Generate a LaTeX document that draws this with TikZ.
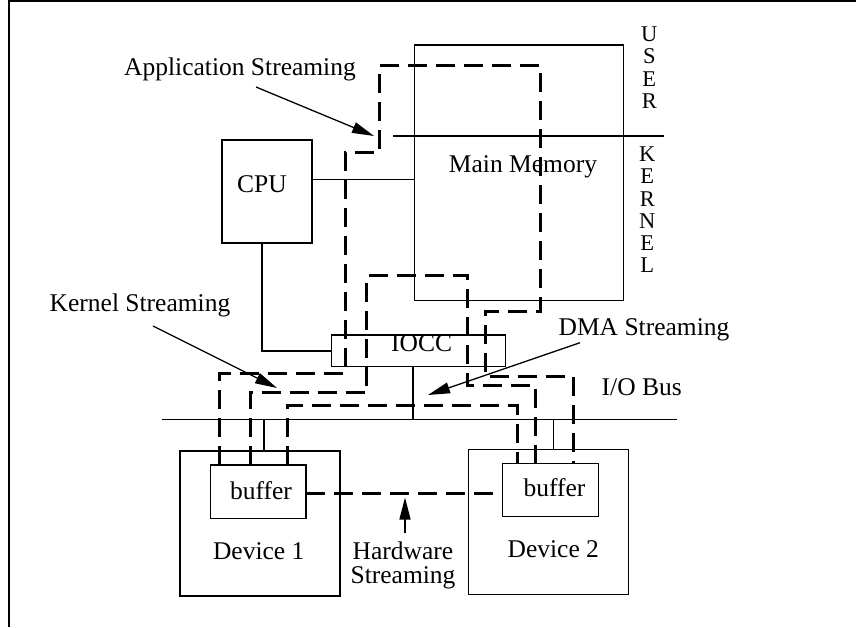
\documentclass[tikz,border=0pt]{standalone}
\usepackage{fontspec}
\setmainfont{Liberation Serif}
\usetikzlibrary{arrows.meta,fit}
\begin{document}
\begin{tikzpicture}[x=1pt,y=-1pt,
  box/.style={draw, line width=1.4pt, inner sep=0pt, outer sep=0pt},
  lbl/.style={font=\fontsize{25.5}{24.3}\selectfont, inner sep=0pt, anchor=base},
  letters/.style={font=\fontsize{22.5}{22.3}\selectfont, inner sep=0pt, align=center, anchor=north},
  wire/.style={line width=1.3pt},
  flow/.style={line width=3pt, dash pattern=on 19pt off 9pt},
  ptr/.style={line width=1.3pt, -{Triangle[length=22pt,width=11pt]}},
]
\useasboundingbox (0,0) rectangle (856,627);

% open frame: top and left edges
\draw[line width=1.5pt] (9,627) -- (9,1.2) -- (856,1.2);

% boxes
\node[box, fit={(414.7,45)(623.3,300.7)}] (mem) {};
\node[box, fit={(222,140)(312,243)}] (cpu) {};
\node[box, fit={(331.7,335)(505.3,366.7)}] (iocc) {};
\node[box, fit={(180,451)(340,596)}] (dev1) {};
\node[box, fit={(210.3,465)(306,518.3)}] (buf1) {};
\node[box, fit={(468.7,449.7)(628.7,594.3)}] (dev2) {};
\node[box, fit={(502.7,463.3)(598.3,516.7)}] (buf2) {};

% texts
\node[lbl] (memtxt) at (523,172.7) {Main Memory};
\node[lbl] (cputxt) at (262,192.5) {CPU};
\node[lbl] (iocctxt) at (421.7,351) {IOCC};
\node[lbl] (buf1txt) at (261,499.3) {buffer};
\node[lbl] (buf2txt) at (554.5,496.7) {buffer};
\node[lbl] (dev1txt) at (258.7,559) {Device 1};
\node[lbl] (dev2txt) at (553.3,557.3) {Device 2};
\node[lbl] (bustxt) at (641.7,395.7) {I/O Bus};
\node[lbl] (apptxt) at (240,75) {Application Streaming};
\node[lbl] (kertxt) at (140,311.7) {Kernel Streaming};
\node[lbl] (dmatxt) at (644,335) {DMA Streaming};
\node[lbl, align=center, anchor=north] (hwtxt) at (403,541.5) {Hardware\\Streaming};
\node[letters] (user) at (649.3,26.7) {U\\S\\E\\R};
\node[letters] (kernel) at (647.3,146.5) {K\\E\\R\\N\\E\\L};

% user / kernel boundary and the I/O bus
\coordinate (ukL) at (393,136);
\coordinate (ukR) at (664,136);
\draw[wire] (ukL) -- (ukR);
\coordinate (busL) at (162,419.3);
\coordinate (busR) at (676.7,419.3);
\draw[wire] (busL) -- (busR);

% solid connections
\draw[wire] (cpu.east |- 0,179.3) -- (mem.west |- 0,179.3);
\draw[wire] (262,0 |- cpu.south) |- (iocc.west);
\draw[wire] (413,0 |- iocc.south) -- (413,0 |- busL);
\draw[wire] (264,0 |- busL) -- (264,0 |- dev1.north);
\draw[wire] (553.7,0 |- busL) -- (553.7,0 |- dev2.north);

% streaming paths
\draw[flow] (219.3,0 |- buf1.north) -- (219.3,373.3) -- (345,373.3) -- (345,152.7)
  -- (379.3,152.7) -- (379.3,65.7) -- (540.7,65.7) -- (540.7,311.7) -- (485,311.7)
  -- (485,376.7) -- (573.3,376.7) -- (573.3,0 |- buf2.north);
\draw[flow] (250,0 |- buf1.north) -- (250,392.7) -- (366.7,392.7) -- (366.7,275.7)
  -- (467.3,275.7) -- (467.3,385.7) -- (535,385.7) -- (535,0 |- buf2.north);
\draw[flow] (287.3,0 |- buf1.north) -- (287.3,405.3) -- (517.3,405.3) -- (517.3,0 |- buf2.north);
\draw[flow] (buf1.east |- 0,493.3) -- (buf2.west |- 0,493.3);

% pointers from the labels
\coordinate (appFrom) at (256,87);
\coordinate (appTip) at (374,136);
\draw[ptr] (appFrom) -- (appTip);
\coordinate (kerFrom) at (153,326);
\coordinate (kerTip) at (277,388);
\draw[ptr] (kerFrom) -- (kerTip);
\coordinate (dmaFrom) at (580,342.7);
\coordinate (dmaTip) at (428,395);
\draw[ptr] (dmaFrom) -- (dmaTip);
\coordinate (hwFrom) at (405,533);
\coordinate (hwTip) at (405,497.5);
\draw[ptr] (hwFrom) -- (hwTip);
\end{tikzpicture}
\end{document}
